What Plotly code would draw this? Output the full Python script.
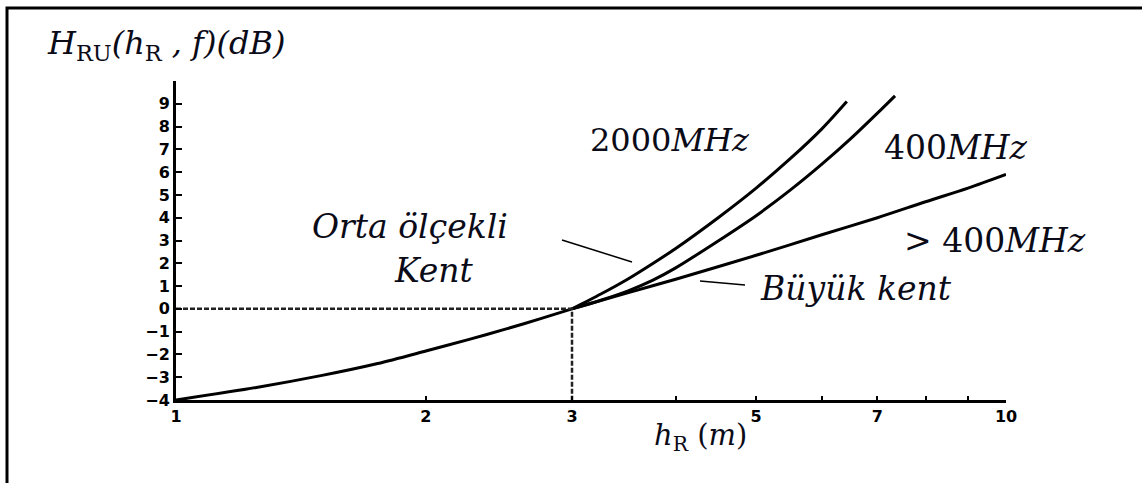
import plotly.graph_objects as go

# Mobile antenna height gain factor versus antenna height (log scale)
base_h = [1, 1.25, 1.5, 1.75, 2, 2.25, 2.5, 2.75, 3]
base_gain = [-4, -3.45, -2.92, -2.4, -1.85, -1.35, -0.88, -0.43, 0]

large_h = [3, 3.5, 4, 5, 6, 7, 8, 9, 10]
large_gain = [0, 0.7, 1.3, 2.35, 3.25, 4.0, 4.7, 5.3, 5.9]

mhz400_h = [3, 3.25, 3.5, 3.75, 4, 4.5, 5, 5.5, 6, 6.5, 7, 7.35]
mhz400_gain = [0, 0.38, 0.78, 1.25, 1.8, 2.98, 4.09, 5.22, 6.35, 7.47, 8.59, 9.35]

mhz2000_h = [3, 3.25, 3.5, 3.75, 4, 4.5, 5, 5.5, 6, 6.43]
mhz2000_gain = [0, 0.65, 1.3, 1.98, 2.65, 4.0, 5.3, 6.6, 7.9, 9.1]

ref_h = [1, 3, 3]
ref_gain = [0, 0, -4]

x_ticks = [1, 2, 3, 5, 7, 10]
x_labels = ["1", "2", "3", "5", "7", "10"]
x_minor_ticks = [4, 6, 8, 9]
y_ticks = list(range(-4, 10))

W, H = 1142, 483
L, R, T, B = 176, 136, 81, 83
PW, PH = W - L - R, H - T - B


def px(x):
    return (x - L) / PW


def py(y):
    return (H - B - y) / PH


INK = "#0b0b18"
SERIF = "DejaVu Serif"

fig = go.Figure()

line_style = dict(color="black", width=3, shape="spline", smoothing=0.8)
for hx, gy in [(base_h, base_gain), (large_h, large_gain),
               (mhz400_h, mhz400_gain), (mhz2000_h, mhz2000_gain)]:
    fig.add_trace(go.Scatter(x=hx, y=gy, mode="lines", line=line_style,
                             hoverinfo="skip", showlegend=False))

# reference dashed guides at h = 3 m, gain = 0 dB
fig.add_trace(go.Scatter(x=ref_h, y=ref_gain, mode="lines",
                         line=dict(color="#222222", width=2.5, dash="5px,2px"),
                         hoverinfo="skip", showlegend=False))

tick_font = dict(family="DejaVu Sans", size=16, color="black", weight="bold")
fig.update_xaxes(type="log", range=[0, 1], tickvals=x_ticks, ticktext=x_labels,
                 ticks="inside", ticklen=4, tickwidth=2, tickcolor="black",
                 minor=dict(tickmode="array", tickvals=x_minor_ticks, ticks="inside",
                            ticklen=4, tickwidth=2, tickcolor="black", showgrid=False),
                 showline=True, linewidth=3, linecolor="black",
                 showgrid=False, zeroline=False, tickfont=tick_font)
fig.update_yaxes(range=[-4, 10], tickvals=y_ticks,
                 ticks="inside", ticklen=6, tickwidth=2, tickcolor="black",
                 showline=True, linewidth=3, linecolor="black",
                 showgrid=False, zeroline=False, tickfont=tick_font)

annotations = [
    dict(text="<i>H</i><sub>RU</sub><i>(h</i><sub>R</sub><i> , f)(dB)</i>",
         x=px(45), y=py(45), xanchor="left", size=32),
    dict(text="2000<i>MHz</i>", x=px(670), y=py(140), size=32),
    dict(text="400<i>MHz</i>", x=px(956), y=py(147), size=33),
    dict(text="&gt; 400<i>MHz</i>", x=px(995), y=py(240), size=33),
    dict(text="<i>Orta ölçekli</i>", x=px(410), y=py(226), size=33),
    dict(text="<i>Kent</i>", x=px(434), y=py(270), size=33),
    dict(text="<i>Büyük kent</i>", x=px(856), y=py(288), size=33),
    dict(text="<i>h</i><sub>R</sub> (<i>m</i>)", x=px(700), y=py(437), size=29),
]
for a in annotations:
    fig.add_annotation(text=a["text"], x=a["x"], y=a["y"], xref="paper", yref="paper",
                       xanchor=a.get("xanchor", "center"), yanchor="middle",
                       showarrow=False,
                       font=dict(family=SERIF, size=a["size"], color=INK))

shapes = [
    # frame around the figure
    dict(type="rect", x0=px(7), x1=px(1160), y0=py(500), y1=py(8),
         line=dict(color="black", width=3)),
    # label leader lines
    dict(type="line", x0=px(562), y0=py(240), x1=px(632), y1=py(262),
         line=dict(color="black", width=1.5)),
    dict(type="line", x0=px(700), y0=py(281), x1=px(745), y1=py(285),
         line=dict(color="black", width=1.5)),
]
for s in shapes:
    fig.add_shape(xref="paper", yref="paper", **s)

fig.update_layout(width=W, height=H, margin=dict(l=L, r=R, t=T, b=B),
                  paper_bgcolor="white", plot_bgcolor="white", showlegend=False)

fig.write_html("out.html")
